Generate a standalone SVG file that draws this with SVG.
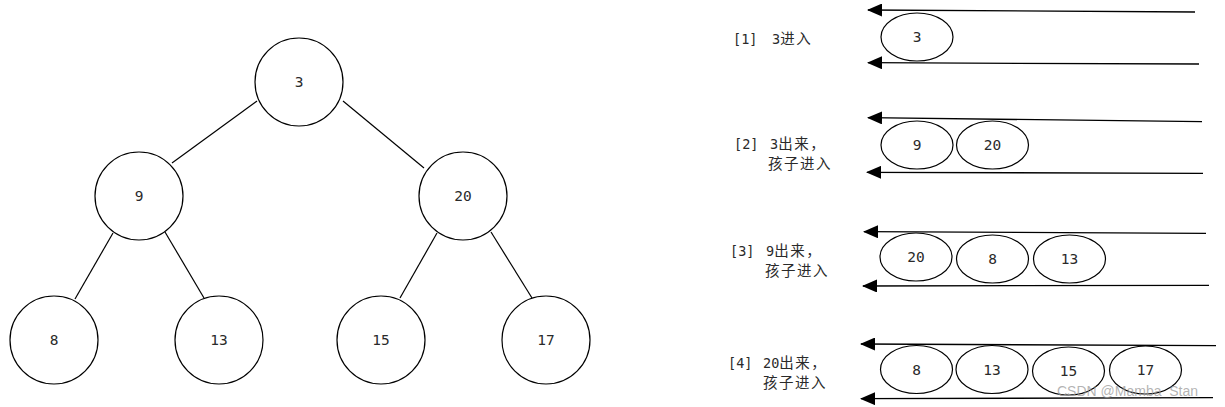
<svg xmlns="http://www.w3.org/2000/svg" width="1225" height="407" viewBox="0 0 1225 407">
<style>
.n{fill:#fff;stroke:#000;stroke-width:1.2}
.t{font-family:"DejaVu Sans Mono","Liberation Mono",monospace;font-size:14.5px;fill:#2a2a2a;text-anchor:middle;dominant-baseline:central}
.l{font-family:"DejaVu Sans Mono","Noto Sans CJK SC",monospace;font-size:13.5px;fill:#2a2a2a}
.c{font-family:"Noto Sans CJK SC",sans-serif;font-size:14.5px;letter-spacing:1.5px}
.e{stroke:#000;stroke-width:1.2;fill:none}
.a{stroke:#000;stroke-width:1.3;fill:none;marker-end:url(#ah)}
.wm{font-family:"Liberation Sans",Arial,sans-serif;font-size:14px;fill:#9a9a9a;fill-opacity:0.75}
</style>
<defs>
<marker id="ah" viewBox="0 0 15 13" refX="14" refY="6.5" markerWidth="15" markerHeight="13" markerUnits="userSpaceOnUse" orient="auto">
<path d="M0,0 L15,6.5 L0,13 z" fill="#000"/>
</marker>
</defs>
<g id="connectors">
<line class="e" x1="257" y1="101" x2="172" y2="163"/>
<line class="e" x1="343" y1="101" x2="424" y2="168"/>
<line class="e" x1="113" y1="233" x2="75" y2="299"/>
<line class="e" x1="165" y1="232" x2="204" y2="298"/>
<line class="e" x1="437" y1="233" x2="400" y2="298"/>
<line class="e" x1="491" y1="232" x2="532" y2="298"/>
<line class="a" x1="1195" y1="12" x2="868" y2="10"/>
<line class="a" x1="1199" y1="64" x2="868" y2="62.7"/>
<line class="a" x1="1202" y1="121.7" x2="868" y2="117.7"/>
<line class="a" x1="1203" y1="173.3" x2="867" y2="172.3"/>
<line class="a" x1="1206" y1="233.3" x2="864" y2="231.7"/>
<line class="a" x1="1209" y1="285.3" x2="863" y2="286"/>
<line class="a" x1="1216" y1="345.7" x2="861" y2="344"/>
<line class="a" x1="1213" y1="397.7" x2="861" y2="398.7"/>
</g>
<g id="tree-3"><circle class="n" cx="299" cy="82" r="44"/><text class="t" x="299" y="82">3</text></g>
<g id="tree-9"><circle class="n" cx="139" cy="196" r="44"/><text class="t" x="139" y="196">9</text></g>
<g id="tree-20"><circle class="n" cx="463" cy="196" r="44"/><text class="t" x="463" y="196">20</text></g>
<g id="tree-8"><circle class="n" cx="54" cy="340" r="44"/><text class="t" x="54" y="340">8</text></g>
<g id="tree-13"><circle class="n" cx="219" cy="340" r="44"/><text class="t" x="219" y="340">13</text></g>
<g id="tree-15"><circle class="n" cx="381" cy="340" r="44"/><text class="t" x="381" y="340">15</text></g>
<g id="tree-17"><circle class="n" cx="546" cy="340" r="44"/><text class="t" x="546" y="340">17</text></g>

<g id="q1-3"><ellipse class="n" cx="917" cy="37" rx="36" ry="24"/><text class="t" x="917" y="37">3</text></g>

<g id="q2-9"><ellipse class="n" cx="917" cy="145" rx="36" ry="24"/><text class="t" x="917" y="145">9</text></g>
<g id="q2-20"><ellipse class="n" cx="992.5" cy="145" rx="36" ry="24"/><text class="t" x="992.5" y="145">20</text></g>

<g id="q3-20"><ellipse class="n" cx="916" cy="257" rx="36" ry="24"/><text class="t" x="916" y="257">20</text></g>
<g id="q3-8"><ellipse class="n" cx="992.5" cy="259" rx="36" ry="24"/><text class="t" x="992.5" y="259">8</text></g>
<g id="q3-13"><ellipse class="n" cx="1069.5" cy="259" rx="36" ry="24"/><text class="t" x="1069.5" y="259">13</text></g>

<g id="q4-8"><ellipse class="n" cx="916.5" cy="369.5" rx="36" ry="24"/><text class="t" x="916.5" y="369.5">8</text></g>
<g id="q4-13"><ellipse class="n" cx="992" cy="369.5" rx="36" ry="24"/><text class="t" x="992" y="369.5">13</text></g>
<g id="q4-15"><ellipse class="n" cx="1068.5" cy="371" rx="36" ry="24"/><text class="t" x="1068.5" y="371">15</text></g>
<g id="q4-17"><ellipse class="n" cx="1145.5" cy="370" rx="36" ry="24"/><text class="t" x="1145.5" y="370">17</text></g>

<g id="label-1"><text class="l" y="44"><tspan x="733">[1]</tspan><tspan x="772">3</tspan><tspan class="c">进入</tspan></text></g>
<g id="label-2"><text class="l"><tspan x="734" y="149">[2]</tspan><tspan x="770" y="149">3</tspan><tspan class="c">出来，</tspan><tspan class="c" x="768" y="169">孩子进入</tspan></text></g>
<g id="label-3"><text class="l"><tspan x="730" y="256">[3]</tspan><tspan x="766" y="256">9</tspan><tspan class="c">出来，</tspan><tspan class="c" x="765" y="276">孩子进入</tspan></text></g>
<g id="label-4"><text class="l"><tspan x="728" y="368">[4]</tspan><tspan x="763" y="368">20</tspan><tspan class="c">出来，</tspan><tspan class="c" x="763" y="388">孩子进入</tspan></text></g>

<text class="wm" x="1057" y="396">CSDN @Mamba_Stan</text>
</svg>
